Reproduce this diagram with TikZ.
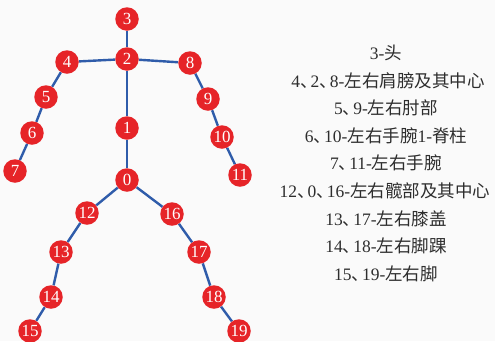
\documentclass[tikz,border=0pt]{standalone}
\usepackage{fontspec}
\usetikzlibrary{backgrounds}
\setmainfont{Liberation Serif}
\newfontfamily\cjk{Noto Sans CJK SC}
\definecolor{jred}{RGB}{230,36,40}
\definecolor{bone}{RGB}{47,92,170}
\definecolor{txt}{RGB}{45,45,45}
\newcommand{\dn}{\makebox[0.6em][l]{\cjk 、}}
\begin{document}
\begin{tikzpicture}[x=1pt,y=-1pt,
  joint/.style={circle,fill=jred,draw=none,minimum size=23.5pt,inner sep=0pt,text=white,font=\fontsize{17}{17}\selectfont},
  link/.style={draw=bone,line width=2.4pt},
  legend/.style={text=txt,font=\fontsize{17.5}{17.5}\selectfont,anchor=base,inner sep=0pt}]
\useasboundingbox (0,0) rectangle (495,341);
\node[joint] (n3) at (127,19) {3};
\node[joint] (n2) at (127,59) {2};
\node[joint] (n4) at (67,62) {4};
\node[joint] (n8) at (190,63) {8};
\node[joint] (n5) at (46,97) {5};
\node[joint] (n9) at (208,99) {9};
\node[joint] (n6) at (32,133) {6};
\node[joint] (n10) at (222,137) {10};
\node[joint] (n7) at (15,171) {7};
\node[joint] (n11) at (240,175) {11};
\node[joint] (n1) at (127,128) {1};
\node[joint] (n0) at (127,180) {0};
\node[joint] (n12) at (87,213) {12};
\node[joint] (n16) at (172,214) {16};
\node[joint] (n13) at (61,252) {13};
\node[joint] (n17) at (199,252) {17};
\node[joint] (n14) at (51,297) {14};
\node[joint] (n18) at (214,297) {18};
\node[joint] (n15) at (30,331) {15};
\node[joint] (n19) at (239,331) {19};
\begin{scope}[on background layer]
\fill[white!98!black] (0,0) rectangle (495,341);
\foreach \a/\b in {n3/n2,n2/n4,n2/n8,n4/n5,n5/n6,n6/n7,n8/n9,n9/n10,n10/n11,n2/n1,n1/n0,n0/n12,n12/n13,n13/n14,n14/n15,n0/n16,n16/n17,n17/n18,n18/n19}
  \draw[link] (\a) -- (\b);
\end{scope}
\node[legend] (l1) at (386,59.5) {3-{\cjk 头}};
\node[legend] (l2) at (388,87.1) {4\dn 2\dn 8-{\cjk 左右肩膀及其中心}};
\node[legend] (l3) at (386,114.7) {5\dn 9-{\cjk 左右肘部}};
\node[legend] (l4) at (386,142.3) {6\dn 10-{\cjk 左右手腕}1-{\cjk 脊柱}};
\node[legend] (l5) at (386,169.9) {7\dn 11-{\cjk 左右手腕}};
\node[legend] (l6) at (385,197.5) {12\dn 0\dn 16-{\cjk 左右髋部及其中心}};
\node[legend] (l7) at (386,225.1) {13\dn 17-{\cjk 左右膝盖}};
\node[legend] (l8) at (386,252.7) {14\dn 18-{\cjk 左右脚踝}};
\node[legend] (l9) at (386,280.3) {15\dn 19-{\cjk 左右脚}};
\end{tikzpicture}
\end{document}
